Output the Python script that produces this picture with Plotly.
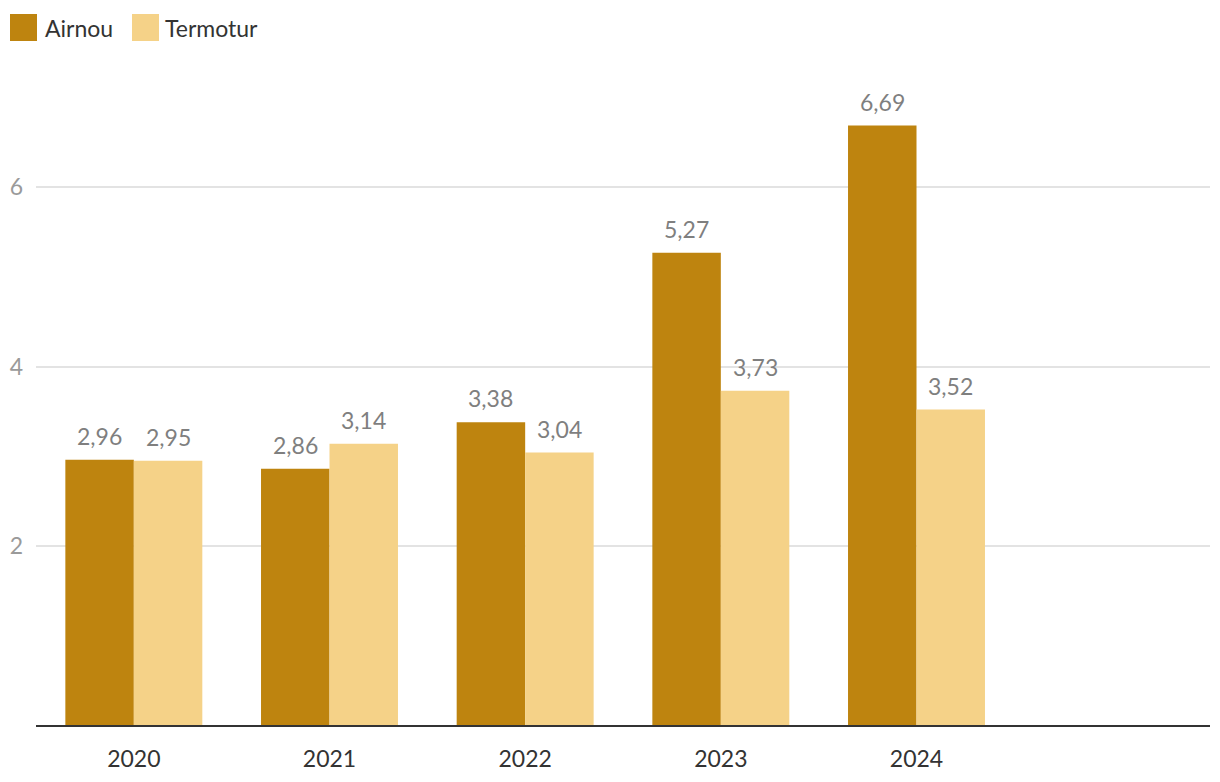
import plotly.graph_objects as go

years = ["2020", "2021", "2022", "2023", "2024"]
airnou = [2.96, 2.86, 3.38, 5.27, 6.69]
termotur = [2.95, 3.14, 3.04, 3.73, 3.52]
series_names = ["Airnou", "Termotur"]
colors = ["#BE840F", "#F5D288"]

# page body has an 8px margin; build figure so it lands on the reference pixels
OFF = 8
W, H = 1220 - 2 * OFF, 782 - 2 * OFF
L, R, T, B = 36 - OFF, 2, 53 - OFF, 782 - 725 - OFF
pw, ph = W - L - R, H - T - B

FONT = "Lato"
FS = 23
BARGAP = 0.3
NCAT = 6

fig = go.Figure()
for name, vals, col in zip(series_names, [airnou, termotur], colors):
    fig.add_trace(go.Bar(
        x=years, y=vals, name=name, marker=dict(color=col, line=dict(width=0)),
        showlegend=False, hoverinfo="x+y+name",
    ))

def px_x(p):
    return (p - OFF - L) / pw

def px_y(p):
    return (H - B - (p - OFF)) / ph

shapes = []
annotations = []

# value labels above bars (x = category serial number on the category axis)
cat_px = pw / NCAT
bar_px = cat_px * (1 - BARGAP) / len(series_names)
for i, vals in enumerate([airnou, termotur]):
    shift = (i - (len(series_names) - 1) / 2) * bar_px
    for ci, v in enumerate(vals):
        annotations.append(dict(
            x=ci, y=v, xref="x", yref="y", xshift=shift, yshift=8,
            xanchor="center", yanchor="bottom", showarrow=False,
            text=f"{v:.2f}".replace(".", ","),
            font=dict(family=FONT, size=FS, color="#7f7f7f"),
        ))

legend_items = [(10, 43), (132, 163)]
for (sx, tx), name, col in zip(legend_items, series_names, colors):
    shapes.append(dict(type="rect", xref="paper", yref="paper",
                       x0=px_x(sx), x1=px_x(sx + 27), y0=px_y(41), y1=px_y(14),
                       fillcolor=col, line=dict(width=0)))
    annotations.append(dict(xref="paper", yref="paper", x=px_x(tx), y=px_y(28),
                            xanchor="left", yanchor="middle", text=name, showarrow=False,
                            font=dict(family=FONT, size=FS, color="#333333")))

fig.update_layout(
    width=W, height=H,
    margin=dict(l=L, r=R, t=T, b=B),
    paper_bgcolor="white", plot_bgcolor="white",
    barmode="group", bargap=BARGAP, bargroupgap=0,
    separators=", ",
    font=dict(family=FONT, size=FS, color="#333333"),
    shapes=shapes, annotations=annotations,
    xaxis=dict(type="category", range=[-0.5, NCAT - 0.5], showgrid=False,
               showline=True, linecolor="#333333", linewidth=2,
               ticks="", ticklabelstandoff=12,
               tickfont=dict(family=FONT, size=FS, color="#333333"), fixedrange=True),
    yaxis=dict(range=[0, 7.5], tickvals=[2, 4, 6], showgrid=True, gridcolor="#e3e3e3",
               gridwidth=1.5, zeroline=False, showline=False, ticks="",
               ticklabelstandoff=12,
               tickfont=dict(family=FONT, size=FS, color="#9a9a9a"), fixedrange=True),
)

fig.write_html("out.html")
